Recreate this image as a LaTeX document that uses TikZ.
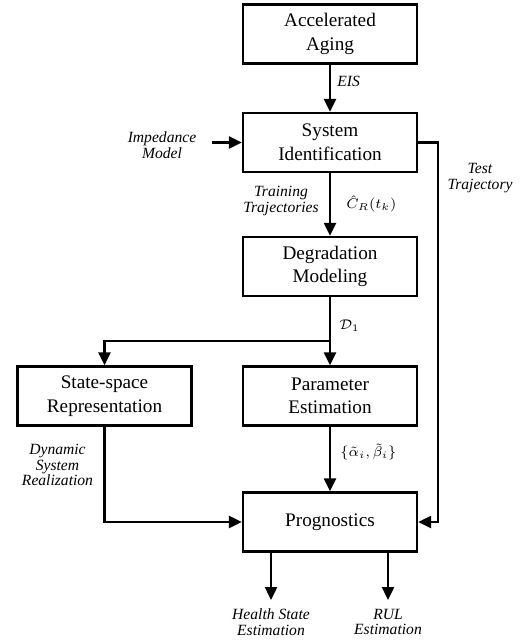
\documentclass[tikz,border=0pt]{standalone}
\usepackage{fontspec}
\setmainfont{Liberation Serif}
\usetikzlibrary{arrows.meta}

\begin{document}
\begin{tikzpicture}[x=0.5pt,y=-0.5pt,
    block/.style={draw,line width=1.2pt,minimum width=87pt,minimum height=29.5pt,
        align=center,inner sep=0pt,font=\fontsize{9.6}{11.8}\selectfont},
    lbl/.style={align=center,inner sep=0pt,font=\fontsize{7.8}{7.9}\selectfont\itshape},
    sym/.style={inner sep=0pt,font=\fontsize{7.4}{8}\selectfont},
    arr/.style={line width=1.2pt,-{Triangle[length=6.5pt,width=6pt]}}]
    \useasboundingbox (0,0) rectangle (520,640);

    %blocks
    \node[block] (aging) at (330,34)    {Accelerated\\Aging};
    \node[block] (sysid) at (330,142.5) {System\\Identification};
    \node[block] (degr)  at (330,266.5) {Degradation\\Modeling};
    \node[block] (state) at (104.5,396) {State-space\\Representation};
    \node[block] (param) at (330,396)   {Parameter\\Estimation};
    \node[block] (progn) at (330,522)   {Prognostics};

    %free ends
    \coordinate (imp)   at (212,142.5);
    \coordinate (split) at (330,341);
    \coordinate (tt)    at (438,142.5);
    \coordinate (hs)    at (271,600);
    \coordinate (rul)   at (388,600);

    %connectors
    \draw[arr] (aging) -- (sysid);
    \draw[arr] (imp) -- (sysid.west);
    \draw[arr] (sysid) -- (degr);
    \draw[arr] (degr) -- (param);
    \draw[arr] (split) -| (state);
    \draw[arr] (param) -- (progn);
    \draw[arr] (state) |- (progn);
    \draw[arr] (sysid.east) -- (tt) |- (progn.east);
    \draw[arr] (progn.south -| hs) -- (hs);
    \draw[arr] (progn.south -| rul) -- (rul);

    %labels
    \node[lbl,anchor=west] (eis) at (337,81) {EIS};
    \node[lbl] (impl) at (162,145) {Impedance\\Model};
    \node[lbl] (train) at (281,201) {Training\\Trajectories};
    \node[sym,anchor=west] (cr) at (346,204) {$\hat{C}_R(t_k)$};
    \node[sym,anchor=west] (d1) at (339,326) {$\mathcal{D}_1$};
    \node[lbl] (test) at (480,178) {Test\\Trajectory};
    \node[sym,anchor=west] (ab) at (340,452) {$\{\tilde{\alpha}_i,\tilde{\beta}_i\}$};
    \node[lbl] (dyn) at (57.5,465) {Dynamic\\System\\Realization};
    \node[lbl] (hsl) at (271,622) {Health State\\Estimation};
    \node[lbl] (rull) at (388,622) {RUL\\Estimation};
\end{tikzpicture}
\end{document}
